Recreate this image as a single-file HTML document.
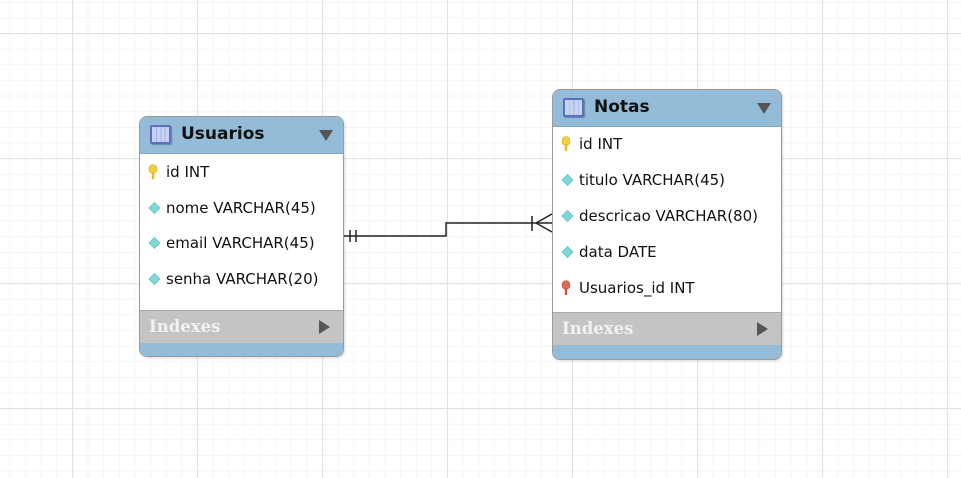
<!DOCTYPE html>
<html><head><meta charset="utf-8">
<style>
*{margin:0;padding:0;box-sizing:border-box}
body{width:961px;height:478px;overflow:hidden;background:#fff;position:relative;font-family:"DejaVu Sans","Liberation Sans",sans-serif}
svg.bg{position:absolute;left:0;top:0}
.tbl{position:absolute;border:1px solid #9a9a9a;border-radius:8px;background:#fff;overflow:hidden;box-shadow:1px 1px 2px rgba(0,0,0,.15)}
.hdr{position:absolute;left:0;right:0;top:0;height:37px;background:#94bcd8;border-bottom:1px solid #7fa6c2}
.hdr .ic{position:absolute;left:10px;top:8px;width:21px;height:19px;border:2px solid #5a6fc0;border-radius:2px;background:linear-gradient(90deg,#c8d2f2 0 25%,#9fb0e8 25% 30%,#c8d2f2 30% 50%,#9fb0e8 50% 55%,#c8d2f2 55% 75%,#9fb0e8 75% 80%,#c8d2f2 80%);box-shadow:1px 1px 1px rgba(0,0,0,.3)}
.hdr .t{position:absolute;left:41px;top:7px;font-weight:bold;font-size:17px;color:#111}
.hdr .dd{position:absolute;right:10px;top:13px;width:0;height:0;border-left:7px solid transparent;border-right:7px solid transparent;border-top:11px solid #555}
.row{position:absolute;left:8px;font-size:15px;color:#111;white-space:nowrap;height:18px}
.row svg{position:absolute;left:0;top:1px}
.row span{position:absolute;left:18px;top:0}
.idx{position:absolute;left:0;right:0;height:33px;background:#c4c4c4;border-top:1px solid #aaa}
.idx .t{position:absolute;left:9px;top:6px;font-family:"DejaVu Serif","Liberation Serif",serif;font-weight:bold;font-size:16.5px;color:#f2f2f2}
.idx .ar{position:absolute;right:13px;top:9px;width:0;height:0;border-top:7px solid transparent;border-bottom:7px solid transparent;border-left:11px solid #555}
.bot{position:absolute;left:0;right:0;bottom:0;background:#94bcd8}
</style></head><body>
<svg class="bg" width="961" height="478">
<defs>
<pattern id="mi" x="9.6" y="2" width="15.625" height="15.625" patternUnits="userSpaceOnUse"><path d="M0 0V15.625M0 0H15.625" stroke="#eeeeee" stroke-width="1.2" fill="none"/></pattern>
<pattern id="ma" x="72" y="33" width="125" height="125" patternUnits="userSpaceOnUse"><path d="M0.5 0V125M0 0.5H125" stroke="#e2e2e2" stroke-width="1.2" fill="none"/></pattern>
</defs>
<rect width="961" height="478" fill="url(#mi)"/>
<rect width="961" height="478" fill="url(#ma)"/>
<g stroke="#222" stroke-width="1.5" fill="none">
<path d="M343 236H446V223H552"/>
<path d="M350 230V242M356 230V242"/>
<path d="M532 216V231M536 223L552 214M536 223L552 232"/>
</g>
</svg>

<div class="tbl" style="left:139px;top:116px;width:205px;height:241px">
 <div class="hdr"><div class="ic"></div><div class="t">Usuarios</div><div class="dd"></div></div>
 <div class="row" style="top:46px"><svg width="12" height="16"><ellipse cx="5" cy="5" rx="4" ry="4.5" fill="#f2d23a" stroke="#c9a51a" stroke-width=".6"/><rect x="3.8" y="8" width="2.4" height="7" fill="#e0bc26"/></svg><span>id INT</span></div>
 <div class="row" style="top:82px"><svg width="14" height="16"><path d="M6.5 2.5L12 8 6.5 13.5 1 8Z" fill="#7fd8d8" stroke="#5ab8bc" stroke-width=".7"/></svg><span>nome VARCHAR(45)</span></div>
 <div class="row" style="top:117px"><svg width="14" height="16"><path d="M6.5 2.5L12 8 6.5 13.5 1 8Z" fill="#7fd8d8" stroke="#5ab8bc" stroke-width=".7"/></svg><span>email VARCHAR(45)</span></div>
 <div class="row" style="top:153px"><svg width="14" height="16"><path d="M6.5 2.5L12 8 6.5 13.5 1 8Z" fill="#7fd8d8" stroke="#5ab8bc" stroke-width=".7"/></svg><span>senha VARCHAR(20)</span></div>
 <div class="idx" style="top:193px"><div class="t">Indexes</div><div class="ar"></div></div>
 <div class="bot" style="height:13px"></div>
</div>

<div class="tbl" style="left:552px;top:89px;width:230px;height:271px">
 <div class="hdr"><div class="ic"></div><div class="t">Notas</div><div class="dd"></div></div>
 <div class="row" style="top:45px"><svg width="12" height="16"><ellipse cx="5" cy="5" rx="4" ry="4.5" fill="#f2d23a" stroke="#c9a51a" stroke-width=".6"/><rect x="3.8" y="8" width="2.4" height="7" fill="#e0bc26"/></svg><span>id INT</span></div>
 <div class="row" style="top:81px"><svg width="14" height="16"><path d="M6.5 2.5L12 8 6.5 13.5 1 8Z" fill="#7fd8d8" stroke="#5ab8bc" stroke-width=".7"/></svg><span>titulo VARCHAR(45)</span></div>
 <div class="row" style="top:117px"><svg width="14" height="16"><path d="M6.5 2.5L12 8 6.5 13.5 1 8Z" fill="#7fd8d8" stroke="#5ab8bc" stroke-width=".7"/></svg><span>descricao VARCHAR(80)</span></div>
 <div class="row" style="top:153px"><svg width="14" height="16"><path d="M6.5 2.5L12 8 6.5 13.5 1 8Z" fill="#7fd8d8" stroke="#5ab8bc" stroke-width=".7"/></svg><span>data DATE</span></div>
 <div class="row" style="top:189px"><svg width="12" height="16"><ellipse cx="5" cy="5" rx="4" ry="4.5" fill="#e0685a" stroke="#b84a3e" stroke-width=".6"/><rect x="3.8" y="8" width="2.4" height="7" fill="#d05446"/></svg><span>Usuarios_id INT</span></div>
 <div class="idx" style="top:222px"><div class="t">Indexes</div><div class="ar"></div></div>
 <div class="bot" style="height:14px"></div>
</div>
</body></html>
